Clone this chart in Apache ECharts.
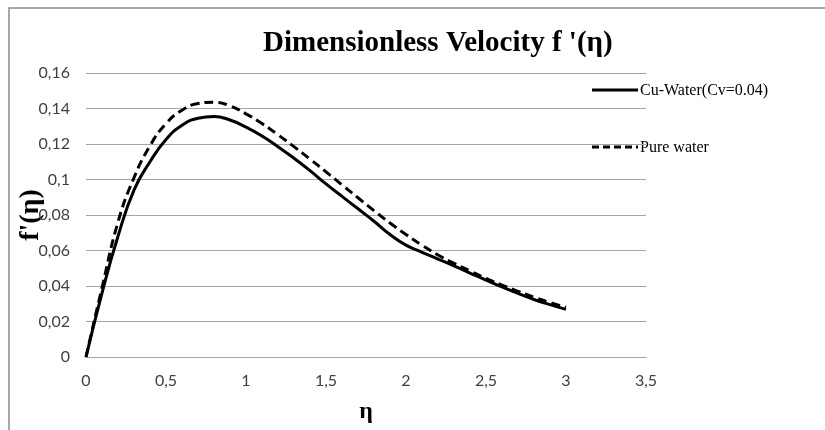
<!DOCTYPE html>
<html>
<head>
<meta charset="utf-8">
<script src="https://cdn.jsdelivr.net/npm/echarts@6/dist/echarts.min.js"></script>
<style>html,body{margin:0;padding:0;background:#fff;}#c{width:825px;height:430px;}</style>
</head>
<body>
<div id="c"></div>
<script>
var eta = [0,0.1,0.2,0.3,0.4,0.5,0.6,0.7,0.8,0.9,1.0,1.1,1.2,1.3,1.4,1.5,1.6,1.7,1.8,1.9,2.0,2.1,2.2,2.3,2.4,2.5,2.6,2.7,2.8,2.9,3.0];
var cuWater = [0,0.036,0.068,0.094,0.110,0.1225,0.1305,0.1345,0.1355,0.1335,0.1295,0.1245,0.1185,0.112,0.105,0.0975,0.0905,0.0835,0.0765,0.069,0.063,0.059,0.0552,0.0513,0.0473,0.0433,0.0395,0.0358,0.0324,0.0295,0.0268];
var pureWater = [0,0.039,0.076,0.101,0.119,0.1315,0.139,0.1428,0.1435,0.1415,0.137,0.1315,0.1252,0.1185,0.1115,0.1043,0.097,0.0897,0.0825,0.0755,0.069,0.063,0.0575,0.0528,0.0485,0.0443,0.0405,0.037,0.0337,0.0307,0.028];
var seriesNames = ['Cu-Water(Cv=0.04)', 'Pure water'];
var titleText = "Dimensionless Velocity f '(\u03b7)";
var xName = '\u03b7';
var yName = "f'(\u03b7)";

function pairs(xs, ys){ return xs.map(function(x,i){ return [x, ys[i]]; }); }
function comma(v){ return String(+v.toFixed(4)).replace('.', ','); }

var legendFont = {fontFamily: 'Liberation Serif', fontSize: 16, fill: '#000'};

var chart = echarts.init(document.getElementById('c'), null, {renderer:'canvas'});
chart.setOption({
  animation: false,
  backgroundColor: '#fff',
  title: {
    text: titleText, left: 258, top: 24,
    textStyle: {fontFamily: 'Liberation Serif', fontWeight: 'bold', fontSize: 29, color: '#000'}
  },
  graphic: [
    {type: 'rect', shape: {x: 9, y: 8, width: 830, height: 440},
     style: {fill: 'none', stroke: '#8c8c8c', lineWidth: 1.5}, silent: true},
    {type: 'line', shape: {x1: 592, y1: 90, x2: 638, y2: 90},
     style: {stroke: '#000', lineWidth: 3}},
    {type: 'text', x: 640, y: 91, style: Object.assign({text: seriesNames[0], textVerticalAlign: 'middle', verticalAlign: 'middle'}, legendFont)},
    {type: 'line', shape: {x1: 592, y1: 147, x2: 638, y2: 147},
     style: {stroke: '#000', lineWidth: 3, lineDash: [7,4]}},
    {type: 'text', x: 640, y: 148, style: Object.assign({text: seriesNames[1], textVerticalAlign: 'middle', verticalAlign: 'middle'}, legendFont)}
  ],
  grid: {left: 86, right: 179, top: 73, bottom: 73, containLabel: false, outerBoundsMode: 'none'},
  xAxis: {
    type: 'value', min: 0, max: 3.5, interval: 0.5,
    name: xName, nameLocation: 'middle', nameGap: 43, nameMoveOverlap: false,
    nameTextStyle: {fontFamily: 'Liberation Serif', fontWeight: 'bold', fontSize: 24, color: '#000'},
    axisLine: {show: true, lineStyle: {color: '#a6a6a6', width: 1}},
    axisTick: {show: false},
    splitLine: {show: false},
    axisLabel: {formatter: comma, margin: 16, fontFamily: 'Lato', fontSize: 16, color: '#404040'}
  },
  yAxis: {
    type: 'value', min: 0, max: 0.16, interval: 0.02,
    name: yName, nameLocation: 'middle', nameGap: 41, nameRotate: 90, nameMoveOverlap: false,
    nameTextStyle: {fontFamily: 'Liberation Serif', fontWeight: 'bold', fontSize: 28, color: '#000'},
    axisLine: {show: false},
    axisTick: {show: false},
    splitLine: {show: true, lineStyle: {color: '#a6a6a6', width: 1}},
    axisLabel: {formatter: comma, margin: 16, fontFamily: 'Lato', fontSize: 16, color: '#404040'}
  },
  series: [
    {name: seriesNames[0], type: 'line', smooth: 0.5, symbol: 'none', showSymbol: false,
     data: pairs(eta, cuWater), lineStyle: {color: '#000', width: 3}, itemStyle: {color: '#000'}},
    {name: seriesNames[1], type: 'line', smooth: 0.5, symbol: 'none', showSymbol: false,
     data: pairs(eta, pureWater), lineStyle: {color: '#000', width: 3, type: [9,5]}, itemStyle: {color: '#000'}}
  ]
});
</script>
</body>
</html>
